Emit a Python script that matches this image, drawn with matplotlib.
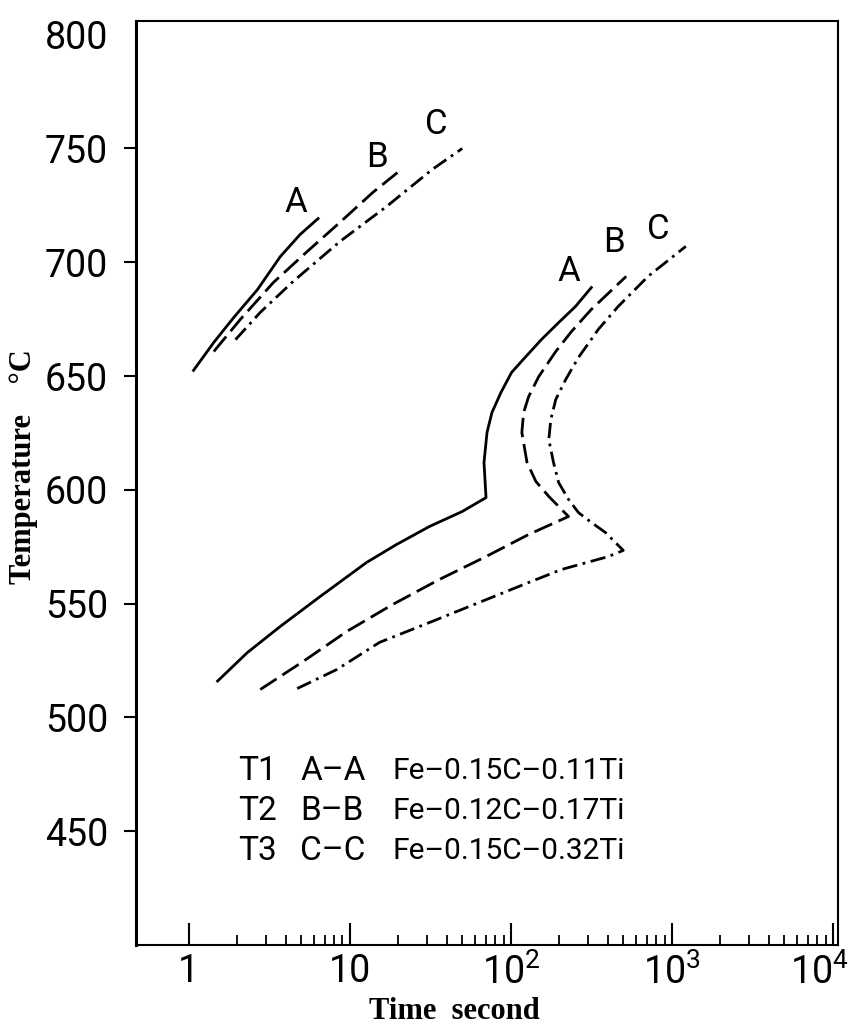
import matplotlib
matplotlib.use("Agg")
import matplotlib.pyplot as plt
import matplotlib.transforms as mtransforms
from matplotlib.ticker import FixedLocator, NullFormatter

plt.rcParams['font.family'] = ['Roboto', 'DejaVu Sans']

# upper curves (time s, temperature C)
upper_a_t = [1.07, 1.43, 1.90, 2.67, 3.70, 4.91, 6.35]
upper_a_T = [652.5, 664.8, 675.7, 688.0, 702.5, 712.2, 719.2]
upper_b_t = [1.43, 2.09, 3.35, 5.43, 8.67, 13.9, 20.9]
upper_b_T = [660.8, 674.9, 691.1, 704.7, 717.5, 730.7, 740.8]
upper_c_t = [1.95, 2.78, 4.45, 8.67, 16.9, 32.5, 49.9]
upper_c_T = [666.0, 678.0, 691.6, 709.1, 724.5, 740.8, 750.0]

# lower C-shaped curves
lower_a_t = [1.51, 2.31, 3.70, 6.53, 12.7, 19.5, 31.2, 49.9, 70.1,
             68.1, 71.1, 76.3, 86.8, 101, 124, 155, 198, 252, 316]
lower_a_T = [516.0, 528.5, 540.0, 553.1, 568.1, 576.0, 583.9, 590.5, 596.6,
             612.0, 625.2, 634.0, 642.8, 651.6, 658.6, 666.1, 673.5, 680.6, 688.9]
lower_b_t = [2.78, 5.13, 9.58, 18.4, 35.9, 70.1, 129, 228,
             172, 143, 126, 117, 120, 129, 149, 190, 238, 316, 520]
lower_b_T = [512.3, 524.6, 537.8, 549.6, 560.6, 570.7, 580.4, 588.3,
             597.1, 603.7, 612.0, 625.2, 634.0, 641.0, 649.8, 660.8, 669.6, 679.3, 693.8]
lower_c_t = [4.71, 8.32, 15.3, 31.2, 63.4, 129, 206, 403, 499,
             386, 316, 263, 228, 198, 184, 172, 177, 190, 219, 263, 349, 464, 711, 1220]
lower_c_T = [512.7, 521.1, 533.0, 541.7, 550.5, 559.3, 565.0, 570.7, 573.4,
             581.3, 585.7, 590.0, 595.8, 603.2, 612.0, 622.1, 630.9, 639.7, 648.5, 658.2,
             670.5, 680.6, 693.8, 707.0]

curve_names = ['A', 'B', 'C']
upper_label_t = [4.64, 14.7, 34.4]
upper_label_T = [726.3, 746.0, 760.5]
lower_label_t = [228, 438, 820]
lower_label_T = [696.0, 708.7, 714.4]

legend_ids = ['T1', 'T2', 'T3']
legend_pairs = ['A–A', 'B–B', 'C–C']
legend_alloys = ['Fe–0.15C–0.11Ti', 'Fe–0.12C–0.17Ti', 'Fe–0.15C–0.32Ti']

y_ticks = [450, 500, 550, 600, 650, 700, 750, 800]
x_ticks = [1, 10, 100, 1000, 10000]
x_tick_labels = ['1', '10', r'$\mathregular{10^2}$', r'$\mathregular{10^3}$', r'$\mathregular{10^4}$']
x_minor = [m * 10 ** d for d in range(4) for m in range(2, 10)]

fig = plt.figure(figsize=(8.52, 10.26), dpi=100)
ax = fig.add_axes([0.1596, 0.0789, 0.8236, 0.9006])

styles = [dict(linestyle='-'),
          dict(linestyle=(0, (7, 2.5))),
          dict(linestyle=(0, (5.5, 2, 1, 2)))]
uppers = [(upper_a_t, upper_a_T), (upper_b_t, upper_b_T), (upper_c_t, upper_c_T)]
lowers = [(lower_a_t, lower_a_T), (lower_b_t, lower_b_T), (lower_c_t, lower_c_T)]
for (ut, uT), (lt, lT), st in zip(uppers, lowers, styles):
    ax.plot(ut, uT, color='black', lw=2.0, solid_joinstyle='round', **st)
    ax.plot(lt, lT, color='black', lw=2.0, solid_joinstyle='round', **st)

for name, t1, T1, t2, T2 in zip(curve_names, upper_label_t, upper_label_T, lower_label_t, lower_label_T):
    ax.text(t1, T1, name, fontsize=25, ha='center', va='center')
    ax.text(t2, T2, name, fontsize=25, ha='center', va='center')

row_y = [0.188, 0.145, 0.102]
for y, a, b, c in zip(row_y, legend_ids, legend_pairs, legend_alloys):
    ax.text(0.145, y, a, transform=ax.transAxes, fontsize=24, va='center')
    ax.text(0.234, y, b, transform=ax.transAxes, fontsize=24, va='center')
    ax.text(0.365, y, c, transform=ax.transAxes, fontsize=21.5, va='center')

ax.set_xscale('log')
ax.set_xlim(0.47, 10700)
ax.set_ylim(400, 806)

ax.xaxis.set_major_locator(FixedLocator(x_ticks))
ax.set_xticklabels(x_tick_labels)
ax.xaxis.set_minor_locator(FixedLocator(x_minor))
ax.xaxis.set_minor_formatter(NullFormatter())
ax.tick_params(axis='x', which='major', direction='in', length=16, width=1.5, pad=6,
               labelsize=27)
ax.tick_params(axis='x', which='minor', direction='in', length=7, width=1.3)

ax.set_yticks(y_ticks)
ax.tick_params(axis='y', which='major', direction='out', length=9, width=1.5, pad=11,
               labelsize=27)
ax.yaxis.get_major_ticks()[-1].tick1line.set_visible(False)

# last x label sits partly past the frame in the original; nudge it left
shift = mtransforms.ScaledTranslation(-10 / 72, 0, fig.dpi_scale_trans)
last = ax.get_xticklabels()[-1]
last.set_transform(last.get_transform() + shift)

for side in ['top', 'right', 'bottom']:
    ax.spines[side].set_linewidth(1.5)
ax.spines['left'].set_linewidth(2.2)

ax.set_xlabel('Time  second', family='Liberation Serif', fontweight='bold', fontsize=22)
ax.xaxis.set_label_coords(0.454, -0.056)
ax.set_ylabel('Temperature    °C', family='Liberation Serif', fontweight='bold', fontsize=22)
ax.yaxis.set_label_coords(-0.14, 0.518)

fig.savefig('out.png', dpi=100)
